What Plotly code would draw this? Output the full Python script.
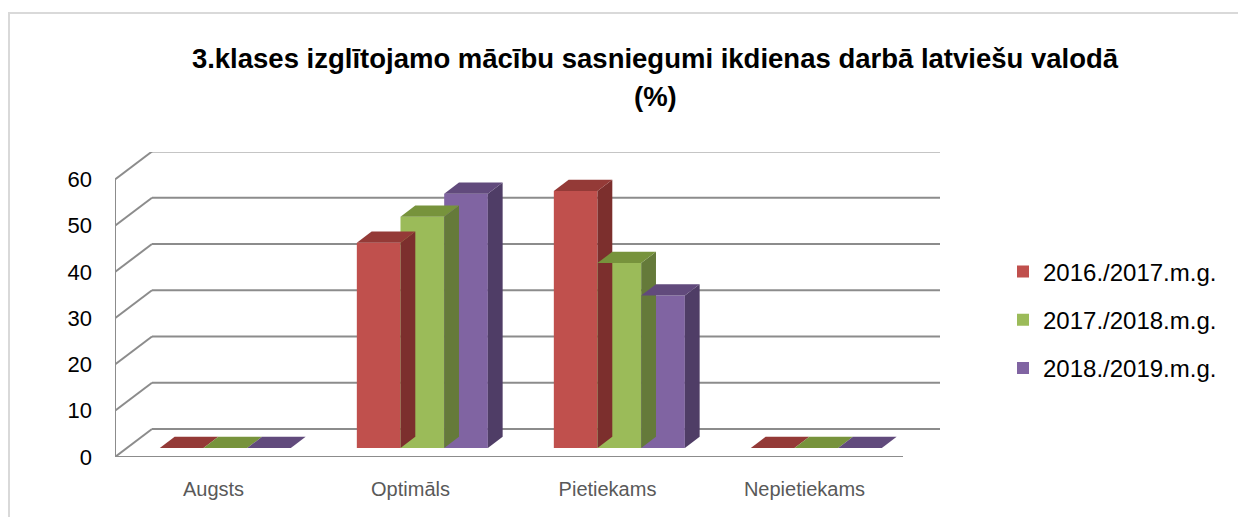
import plotly.graph_objects as go

# ---- data ----
categories = ["Augsts", "Optimāls", "Pietiekams", "Nepietiekams"]
series_names = ["2016./2017.m.g.", "2017./2018.m.g.", "2018./2019.m.g."]
values_2016_2017 = [0, 44.4, 55.6, 0]
values_2017_2018 = [0, 50, 40, 0]
values_2018_2019 = [0, 55, 33, 0]
y_ticks = [0, 10, 20, 30, 40, 50, 60]

series_values = [values_2016_2017, values_2017_2018, values_2018_2019]
front_colors = ["#C0504D", "#9BBB59", "#8064A2"]
top_colors = ["#943A37", "#77933C", "#614A7C"]
side_colors = ["#7C2F2D", "#657A3A", "#4F3D66"]

# ---- pseudo-3D geometry (in axis units) ----
W, H = 1238, 517
L, R, T, B = 115, 298, 152, 60
px_x = 197.0          # pixels per category
px_y = 4.625          # pixels per value unit
X0 = -0.5
XR = X0 + (W - L - R) / px_x
YR = (H - T - B) / px_y
DX, DY = 37 / px_x, 28 / px_y          # full floor depth
FX, FY = 0.32 * DX, 0.32 * DY          # bar front plane
BDX, BDY = 0.40 * DX, 0.40 * DY        # bar depth
BW = 0.2217                            # bar width

fig = go.Figure()

grid_color = "#8C8C8C"
shapes = []
for v in y_ticks:
    shapes.append(dict(type="line", xref="x", yref="y", x0=X0 + DX, x1=XR,
                       y0=v + DY, y1=v + DY, line=dict(color=grid_color, width=2), layer="below"))
    shapes.append(dict(type="line", xref="x", yref="y", x0=X0, x1=X0 + DX,
                       y0=v, y1=v + DY, line=dict(color=grid_color, width=2), layer="below"))
shapes.append(dict(type="line", xref="x", yref="y", x0=X0, x1=X0, y0=0, y1=max(y_ticks),
                   line=dict(color=grid_color, width=2), layer="below"))
shapes.append(dict(type="line", xref="x", yref="y", x0=X0, x1=X0 + len(categories), y0=0, y1=0,
                   line=dict(color=grid_color, width=2), layer="below"))
# chart border
shapes.append(dict(type="rect", xref="paper", yref="paper",
                   x0=(9 - L) / (W - L - R), x1=2.0,
                   y0=-1.0, y1=(H - B - 13) / (H - T - B),
                   line=dict(color="#D9D9D9", width=2), fillcolor="rgba(0,0,0,0)", layer="below"))

for j, (name, vals) in enumerate(zip(series_names, series_values)):
    xs = [i + FX + (j - 1) * BW for i in range(len(categories))]
    fig.add_trace(go.Bar(x=xs, y=vals, base=FY, width=BW, name=name,
                         marker=dict(color=front_colors[j], line=dict(width=0)),
                         legendgroup=name))
    for xc, v in zip(xs, vals):
        xa, xb = xc - BW / 2, xc + BW / 2
        fig.add_trace(go.Scatter(
            x=[xb, xb + BDX, xb + BDX, xb, xb],
            y=[FY, FY + BDY, FY + BDY + v, FY + v, FY],
            fill="toself", fillcolor=side_colors[j], mode="lines",
            line=dict(width=0), showlegend=False, hoverinfo="skip"))
        fig.add_trace(go.Scatter(
            x=[xa, xb, xb + BDX, xa + BDX, xa],
            y=[FY + v, FY + v, FY + v + BDY, FY + v + BDY, FY + v],
            fill="toself", fillcolor=top_colors[j], mode="lines",
            line=dict(width=0), showlegend=False, hoverinfo="skip"))

title_font = dict(family="Liberation Sans, Arial, sans-serif", size=27.5, color="black")
fig.update_layout(
    width=W, height=H,
    margin=dict(l=L, r=R, t=T, b=B, autoexpand=False),
    paper_bgcolor="white", plot_bgcolor="white",
    barmode="overlay",
    font=dict(family="Liberation Sans, Arial, sans-serif", color="black"),
    title=dict(text="<b>3.klases izglītojamo mācību sasniegumi ikdienas darbā latviešu valodā</b>",
               x=655 / W, xanchor="center", xref="container",
               y=1 - 58 / H, yanchor="middle", yref="container",
               font=title_font),
    annotations=[dict(text="<b>(%)</b>", xref="paper", yref="paper",
                      x=(655 - L) / (W - L - R), y=(H - B - 96) / (H - T - B),
                      xanchor="center", yanchor="middle", showarrow=False,
                      font=title_font)],
    xaxis=dict(range=[X0, XR], tickvals=list(range(len(categories))), ticktext=categories,
               showgrid=False, zeroline=False, showline=False, ticks="",
               tickfont=dict(size=20, color="#595959"), ticklabelstandoff=18,
               fixedrange=True, automargin=False),
    yaxis=dict(range=[0, YR], tickvals=y_ticks, showgrid=False, zeroline=False,
               showline=False, ticks="", tickfont=dict(size=22, color="black"),
               ticklabelstandoff=22, fixedrange=True, automargin=False),
    legend=dict(x=(1003 - L) / (W - L - R), xanchor="left",
                y=(H - B - 320) / (H - T - B), yanchor="middle",
                font=dict(size=24, color="black"), traceorder="grouped",
                tracegroupgap=14, bgcolor="rgba(0,0,0,0)"),
    shapes=shapes,
    showlegend=True,
)

fig.write_html("out.html",
               config={"displayModeBar": False},
               post_script="document.body.style.margin='0px';document.body.style.overflow='hidden';")
